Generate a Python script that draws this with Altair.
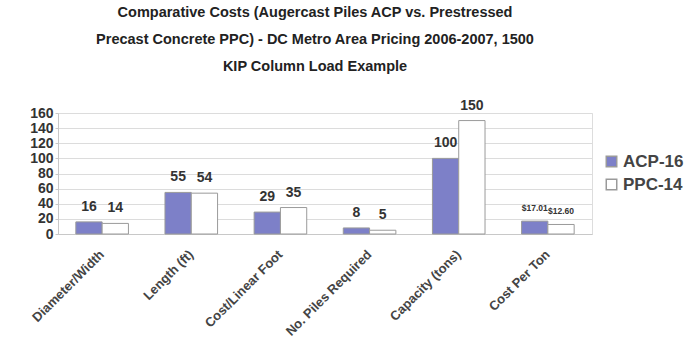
import altair as alt
import pandas as pd

categories = ["Diameter/Width", "Length (ft)", "Cost/Linear Foot",
              "No. Piles Required", "Capacity (tons)", "Cost Per Ton"]
series = ["ACP-16", "PPC-14"]
acp_values = [16, 55, 29, 8, 100, 17.01]
ppc_values = [14, 54, 35, 5, 150, 12.60]
acp_labels = ["16", "55", "29", "8", "100", "$17.01"]
ppc_labels = ["14", "54", "35", "5", "150", "$12.60"]
y_ticks = [0, 20, 40, 60, 80, 100, 120, 140, 160]

rows = []
for i, c in enumerate(categories):
    for s, vals, labs in ((series[0], acp_values, acp_labels), (series[1], ppc_values, ppc_labels)):
        lab = labs[i]
        rows.append({"cat": c, "series": s, "value": vals[i], "label": lab,
                     "fs": 8.5 if lab.startswith("$") else 14})
df = pd.DataFrame(rows)

FONT = "Liberation Sans"
x_enc = alt.X("cat:N", sort=categories, title=None,
              scale=alt.Scale(paddingInner=0.41, paddingOuter=0.2),
              axis=alt.Axis(labelAngle=-45, labelAlign="right", labelBaseline="middle",
                            labelFont=FONT, labelFontSize=13, labelFontWeight="bold",
                            labelColor="#444", labelPadding=18, ticks=False,
                            domainColor="#c8c8c8", labelLimit=200))
y_axis = alt.Axis(values=y_ticks, tickCount=9, labelFont=FONT, labelFontSize=14,
                  labelFontWeight="bold", labelColor="#333",
                  labelOverlap=False, labelFlush=False,
                  gridColor="#dcdcdc", domainColor="#c8c8c8",
                  tickColor="#c8c8c8", tickSize=3, labelPadding=2)
y_enc = alt.Y("value:Q", title=None,
              scale=alt.Scale(domain=[0, 160], nice=False), axis=y_axis)

bars = alt.Chart(df).mark_bar(stroke="#9a9a9a", strokeWidth=1).encode(
    x=x_enc,
    xOffset=alt.XOffset("series:N", sort=series),
    y=y_enc,
    fill=alt.Fill("series:N", sort=series,
                  scale=alt.Scale(domain=series, range=["#7d80c8", "#ffffff"]),
                  legend=alt.Legend(title=None, orient="none", legendX=545, legendY=40,
                                    labelFont=FONT, labelFontSize=17, labelFontWeight="bold",
                                    labelColor="#444", symbolType="square", symbolSize=110,
                                    symbolStrokeColor="#9a9a9a", rowPadding=5,
                                    labelOffset=3, labelLimit=200)),
)

texts = alt.Chart(df).mark_text(dy=-8, font=FONT, fontWeight="bold", color="#333",
                                baseline="bottom").encode(
    x=x_enc,
    xOffset=alt.XOffset("series:N", sort=series),
    y=y_enc,
    text="label:N",
    size=alt.Size("fs:Q", scale=None, legend=None),
)

chart = alt.layer(bars, texts).properties(
    width=534, height=121,
    title=alt.TitleParams(
        ["Comparative Costs (Augercast Piles ACP vs. Prestressed",
         "Precast Concrete PPC) - DC Metro Area Pricing 2006-2007, 1500",
         "KIP Column Load Example"],
        font=FONT, fontSize=14.5, fontWeight="bold", color="#222",
        anchor="middle", frame="group", lineHeight=27, offset=24, dx=-10),
    autosize="none",
    padding={"left": 58, "top": 113, "right": 96, "bottom": 116},
).configure_view(stroke="#c8c8c8").configure(background="white")

chart.save("out.html", embed_options={"renderer": "svg", "actions": False})
